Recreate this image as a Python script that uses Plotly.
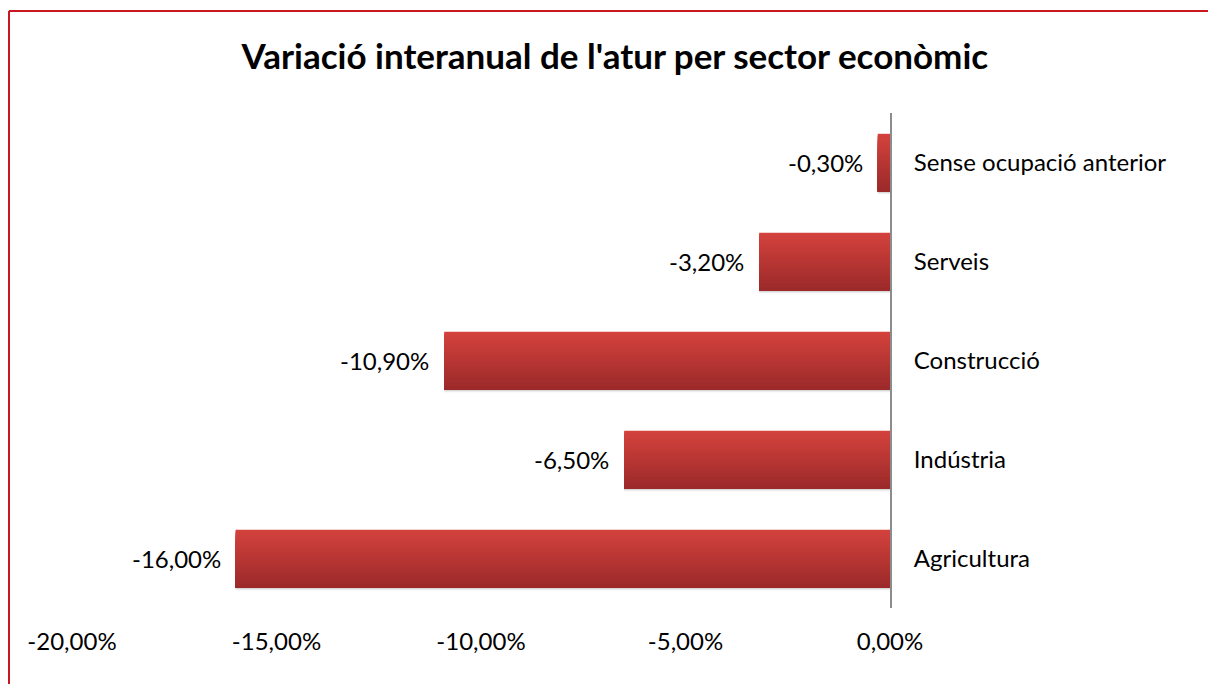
import plotly.graph_objects as go

categories = ["Agricultura", "Indústria", "Construcció", "Serveis", "Sense ocupació anterior"]
values = [-16.0, -6.5, -10.9, -3.2, -0.3]
tick_values = [-20, -15, -10, -5, 0]
tick_labels = ["-20,00%", "-15,00%", "-10,00%", "-5,00%", "0,00%"]
title_text = "Variació interanual de l'atur per sector econòmic"

FONT = "Lato"
bar_width = 0.58
n_strips = 30
top_rgb = (211, 66, 61)
bot_rgb = (156, 42, 42)

labels = [f"{v:.2f}%".replace(".", ",") for v in values]

fig = go.Figure()

# shadow
for i, a in enumerate([0.10, 0.07, 0.04]):
    fig.add_trace(go.Bar(
        y=categories, x=values, orientation="h",
        width=bar_width, offset=-bar_width / 2 - 0.012 - 0.01 * i,
        marker=dict(color=f"rgba(0,0,0,{a})", line=dict(width=0)),
        hoverinfo="skip", showlegend=False,
    ))

# gradient: successive overlapping layers, each from a lower top edge down to the bar bottom
sw = bar_width / n_strips
for k in range(n_strips):
    t = k / (n_strips - 1)
    r = round(top_rgb[0] + (bot_rgb[0] - top_rgb[0]) * t)
    g = round(top_rgb[1] + (bot_rgb[1] - top_rgb[1]) * t)
    b = round(top_rgb[2] + (bot_rgb[2] - top_rgb[2]) * t)
    h = bar_width - k * sw
    fig.add_trace(go.Bar(
        y=categories, x=values, orientation="h",
        width=h, offset=-bar_width / 2,
        marker=dict(color=f"rgb({r},{g},{b})", line=dict(width=0)),
        hoverinfo="skip", showlegend=False,
    ))

annotations = [
    dict(x=v, y=c, xref="x", yref="y", text=lab, showarrow=False,
         xanchor="right", yanchor="middle", xshift=-13,
         font=dict(family=FONT, size=24, color="#000000"))
    for v, c, lab in zip(values, categories, labels)
]

fig.update_layout(
    width=1208, height=684,
    barmode="overlay",
    paper_bgcolor="white", plot_bgcolor="white",
    margin=dict(l=72, r=318, t=113, b=76),
    title=dict(text=f"<b>{title_text}</b>", x=0.509, xanchor="center", y=0.917, yanchor="middle",
               font=dict(family=FONT, size=35, color="#000000")),
    xaxis=dict(range=[-20, 0], tickvals=tick_values, ticktext=tick_labels,
               showgrid=False, zeroline=False, showline=False, ticks="",
               tickfont=dict(family=FONT, size=24, color="#000000"),
               ticklabelstandoff=17),
    yaxis=dict(categoryorder="array", categoryarray=categories,
               side="right", range=[-0.5, 4.5],
               showgrid=False, zeroline=False, showline=True, linecolor="#8c8c8c", linewidth=2,
               ticks="", ticklabelstandoff=17,
               tickfont=dict(family=FONT, size=24, color="#000000")),
    annotations=annotations,
    shapes=[
        dict(type="line", xref="paper", yref="paper", x0=(9 - 72) / 818, x1=(9 - 72) / 818,
             y0=-0.3, y1=(608 - 11) / 495, line=dict(color="#c8171e", width=2)),
        dict(type="line", xref="paper", yref="paper", x0=(9 - 72) / 818, x1=1.6,
             y0=(608 - 11) / 495, y1=(608 - 11) / 495, line=dict(color="#c8171e", width=2)),
    ],
)

fig.write_html("out.html", config={"displayModeBar": False},
               post_script="document.body.style.margin='0';document.body.style.overflow='hidden';")
